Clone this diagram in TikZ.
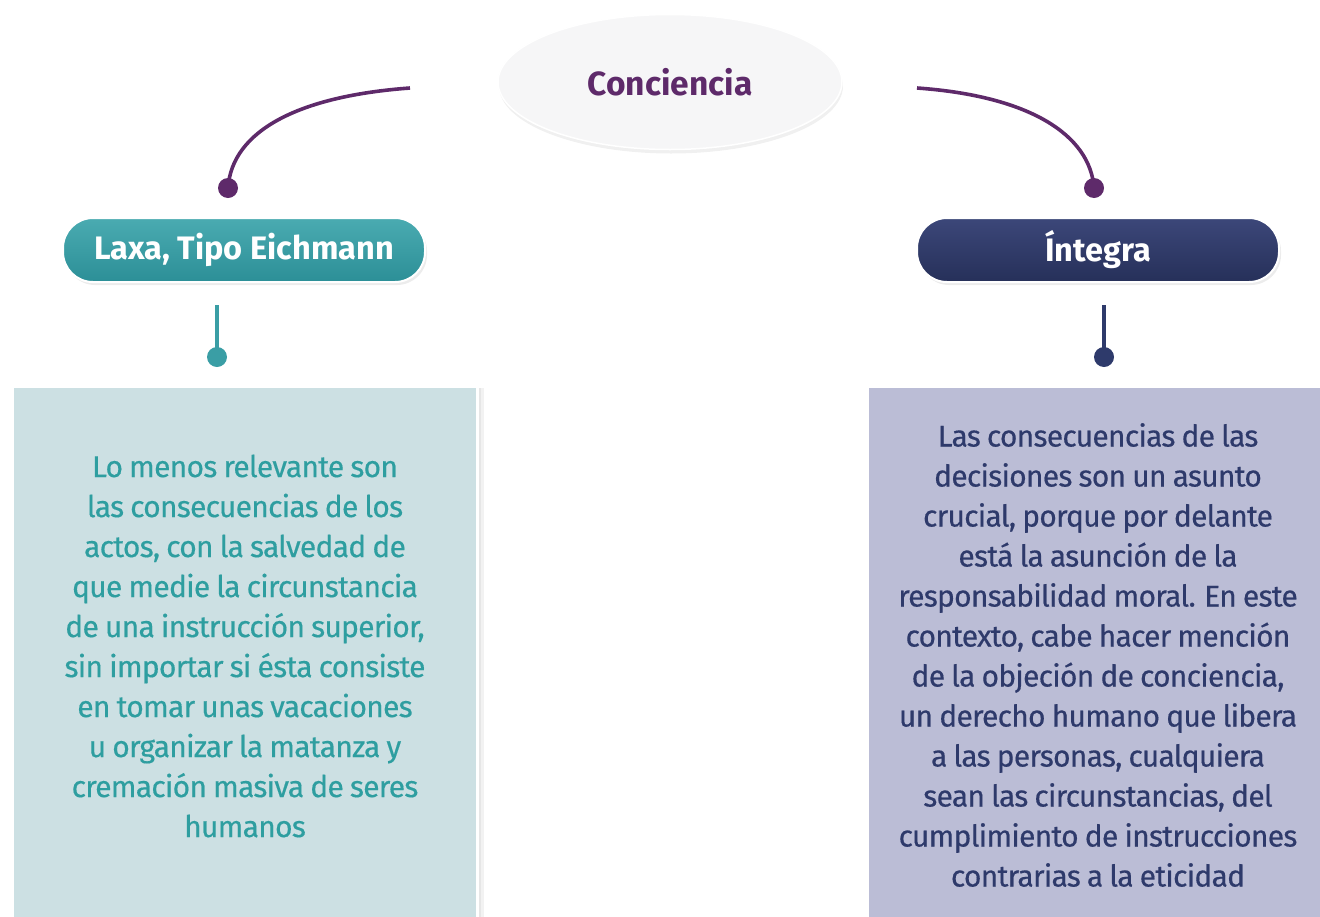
\documentclass[tikz,border=0pt]{standalone}
\usepackage{fontspec}
\setmainfont{Fira Sans}
\newfontfamily\bodyfont[LetterSpace=-2.5,WordSpace=0.85,FakeBold=0.4]{Fira Sans}
\usetikzlibrary{shadows,shapes.geometric}
\definecolor{purp}{HTML}{5E2A6A}
\definecolor{tealc}{HTML}{3A9EA5}
\definecolor{tealtop}{HTML}{4AABB1}
\definecolor{tealbot}{HTML}{2C8F97}
\definecolor{navy}{HTML}{2E3A6B}
\definecolor{navytop}{HTML}{3C4779}
\definecolor{navybot}{HTML}{263059}
\definecolor{tealbg}{HTML}{CCE0E3}
\definecolor{navybg}{HTML}{BBBDD6}
\definecolor{tealtxt}{HTML}{2E9EA0}
\definecolor{ellfill}{HTML}{F6F6F7}
\tikzset{
  conn/.style={line width=3.6pt, purp},
  dotp/.style={circle, fill=purp, inner sep=0pt, minimum size=20pt},
  pill/.style={rounded corners=30pt, draw=white, line width=2pt, minimum width=362pt, minimum height=64pt,
     text=white, font=\bfseries\fontsize{32.5}{36}\selectfont, drop shadow={shadow xshift=2pt, shadow yshift=-3pt, opacity=0.15}},
  stem/.style={line width=3.6pt},
  body/.style={align=center, font=\bodyfont\fontsize{30}{40}\selectfont},
}
\begin{document}
\begin{tikzpicture}[x=1pt,y=-1pt]
\useasboundingbox (0,0) rectangle (1320,916);
\clip (0,0) rectangle (1320,916);
% top ellipse
\node[ellipse, fill=ellfill, draw=white, line width=1.5pt, minimum width=344pt, minimum height=135pt,
  drop shadow={shadow xshift=1pt, shadow yshift=-4pt, opacity=0.12},
  text=purp, font=\bfseries\fontsize{33.5}{36}\selectfont] (root) at (670,82) {Conciencia};
\coordinate (cl) at (410,88);
\coordinate (cr) at (917,88);
% dots
\node[dotp] (dl) at (228,188) {};
\node[dotp] (dr) at (1094,188) {};
\draw[conn] (cl) .. controls (300,96) and (232,130) .. (dl.center);
\draw[conn] (cr) .. controls (1030,96) and (1090,135) .. (dr.center);
% pills
\node[pill, top color=tealtop, bottom color=tealbot] (laxa) at (244,250) {Laxa, Tipo Eichmann};
\node[pill, top color=navytop, bottom color=navybot] (integra) at (1098,250) {Íntegra};
% stems
\coordinate (sl) at (217,305);
\coordinate (sr) at (1104,305);
\node[circle, fill=tealc, inner sep=0pt, minimum size=20pt] (dl2) at (217,357) {};
\node[circle, fill=navy, inner sep=0pt, minimum size=20pt] (dr2) at (1104,357) {};
\draw[stem, tealc] (sl) -- (dl2.center);
\draw[stem, navy] (sr) -- (dr2.center);
% boxes
\fill[black, opacity=0.05] (13,388) rectangle (484,920);
\fill[black, opacity=0.05] (13,388) rectangle (481,920);
\fill[white] (11,385) rectangle (479,918);
\fill[tealbg] (14,388) rectangle (476,918);
\fill[black, opacity=0.05] (868,388) rectangle (1330,920);
\fill[white] (866,385) rectangle (1330,918);
\fill[navybg] (869,388) rectangle (1330,918);
\node[body, text=tealtxt] (ltext) at (245,646) {Lo menos relevante son\\las consecuencias de los\\actos, con la salvedad de\\que medie la circunstancia\\de una instrucción superior,\\sin importar si ésta consiste\\en tomar unas vacaciones\\u organizar la matanza y\\cremación masiva de seres\\humanos};
\node[body, text=navy] (rtext) at (1098,655) {Las consecuencias de las\\decisiones son un asunto\\crucial, porque por delante\\está la asunción de la\\responsabilidad moral. En este\\contexto, cabe hacer mención\\de la objeción de conciencia,\\un derecho humano que libera\\a las personas, cualquiera\\sean las circunstancias, del\\cumplimiento de instrucciones\\contrarias a la eticidad};
\end{tikzpicture}
\end{document}
